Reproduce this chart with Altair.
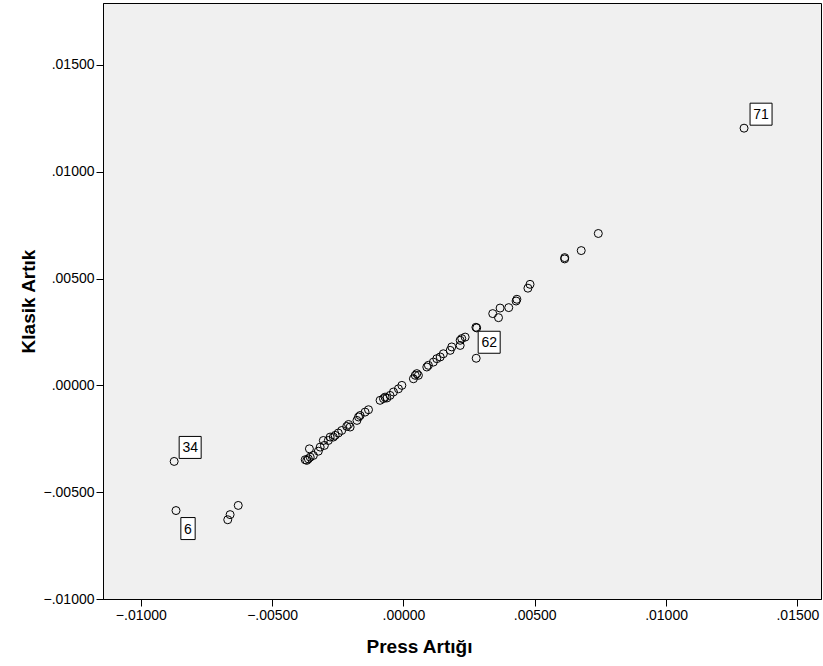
import altair as alt
import pandas as pd

# Values (Press residual vs classic residual)
press = [-0.00873, -0.00866, -0.00629, -0.00660, -0.00669,
         -0.00374, -0.00368, -0.00362, -0.00355, -0.00358, -0.00343, -0.00324, -0.00317,
         -0.00305, -0.00301, -0.00286, -0.00279, -0.00267, -0.00260, -0.00248, -0.00235,
         -0.00216, -0.00209, -0.00203, -0.00177, -0.00171, -0.00165, -0.00146, -0.00133,
         -0.00089, -0.00076, -0.00070, -0.00063, -0.00051, -0.00038, -0.00019, -0.00006,
         0.00038, 0.00045, 0.00051, 0.00057, 0.00089, 0.00095, 0.00114, 0.00127,
         0.00140, 0.00152, 0.00178, 0.00184, 0.00216, 0.00222, 0.00235, 0.00216,
         0.00276, 0.00279, 0.00277, 0.00340, 0.00362, 0.00368, 0.00401, 0.00429,
         0.00432, 0.00474, 0.00482, 0.00614, 0.00614, 0.00677, 0.00742, 0.01297]
klasik = [-0.00356, -0.00586, -0.00562, -0.00605, -0.00629,
          -0.00348, -0.00351, -0.00344, -0.00336, -0.00297, -0.00328, -0.00308, -0.00289,
          -0.00258, -0.00281, -0.00258, -0.00242, -0.00242, -0.00234, -0.00223, -0.00211,
          -0.00192, -0.00183, -0.00195, -0.00164, -0.00148, -0.00141, -0.00125, -0.00114,
          -0.00070, -0.00062, -0.00055, -0.00059, -0.00047, -0.00031, -0.00016, 0.00000,
          0.00031, 0.00047, 0.00055, 0.00047, 0.00086, 0.00094, 0.00109, 0.00125,
          0.00133, 0.00148, 0.00164, 0.00180, 0.00211, 0.00219, 0.00226, 0.00187,
          0.00272, 0.00269, 0.00127, 0.00336, 0.00317, 0.00362, 0.00364, 0.00395,
          0.00403, 0.00455, 0.00473, 0.00598, 0.00592, 0.00631, 0.00711, 0.01204]

label_ids = ["71", "34", "6", "62"]
label_x = [0.01297, -0.00873, -0.00866, 0.00277]
label_y = [0.01204, -0.00356, -0.00586, 0.00127]
label_dx = [17, 16, 12, 13]
label_dy = [-14, -14, 18, -16]

ticks = [-0.01, -0.005, 0.0, 0.005, 0.01, 0.015]

FONT = "Liberation Sans"

df = pd.DataFrame({"press": press, "klasik": klasik})

xscale = alt.Scale(domain=[-0.01144, 0.0159], nice=False, zero=False)
yscale = alt.Scale(domain=[-0.01, 0.0179], nice=False, zero=False)
lab_expr = "replace(format(datum.value, '.5f'), '0.', '.')"

common = dict(values=ticks, labelExpr=lab_expr, grid=False,
              tickSize=7, tickColor="black", domainColor="black", labelColor="black",
              labelFont=FONT, labelFontSize=14, labelPadding=2,
              titleFont=FONT, titleFontSize=19, titleFontWeight="bold", titleColor="black")
xaxis = alt.Axis(title="Press Artığı", titleX=316, titleY=38, **common)
yaxis = alt.Axis(title="Klasik Artık", titleX=-65, titleY=298, **common)

points = alt.Chart(df).mark_point(shape="circle", filled=False, color="black",
                                  size=64, strokeWidth=1, opacity=1).encode(
    x=alt.X("press:Q", scale=xscale, axis=xaxis),
    y=alt.Y("klasik:Q", scale=yscale, axis=yaxis),
)

layers = [points]
for lid, lx, ly, dx, dy in zip(label_ids, label_x, label_y, label_dx, label_dy):
    ldf = pd.DataFrame({"press": [lx], "klasik": [ly], "id": [lid]})
    path = "M-1,-1H1V1H-1Z" if len(lid) > 1 else "M-0.65,-1H0.65V1H-0.65Z"
    box = alt.Chart(ldf).mark_point(shape=path, filled=True, fill="white", stroke="black",
                                    strokeWidth=1, size=484, opacity=1,
                                    xOffset=dx, yOffset=dy).encode(
        x=alt.X("press:Q", scale=xscale), y=alt.Y("klasik:Q", scale=yscale))
    txt = alt.Chart(ldf).mark_text(font=FONT, fontSize=14, color="black", dx=dx, dy=dy + 1,
                                   align="center", baseline="middle").encode(
        x=alt.X("press:Q", scale=xscale), y=alt.Y("klasik:Q", scale=yscale), text="id:N")
    layers += [box, txt]

chart = alt.layer(*layers).properties(
    width=718, height=596,
    autosize=alt.AutoSizeParams(type="none"),
    padding={"left": 103, "top": 3, "right": 2, "bottom": 67},
    background="white",
).configure_view(fill="#F0F0F0", stroke="black", strokeWidth=1)

chart.save("out.html", embed_options={"renderer": "svg", "actions": False})
